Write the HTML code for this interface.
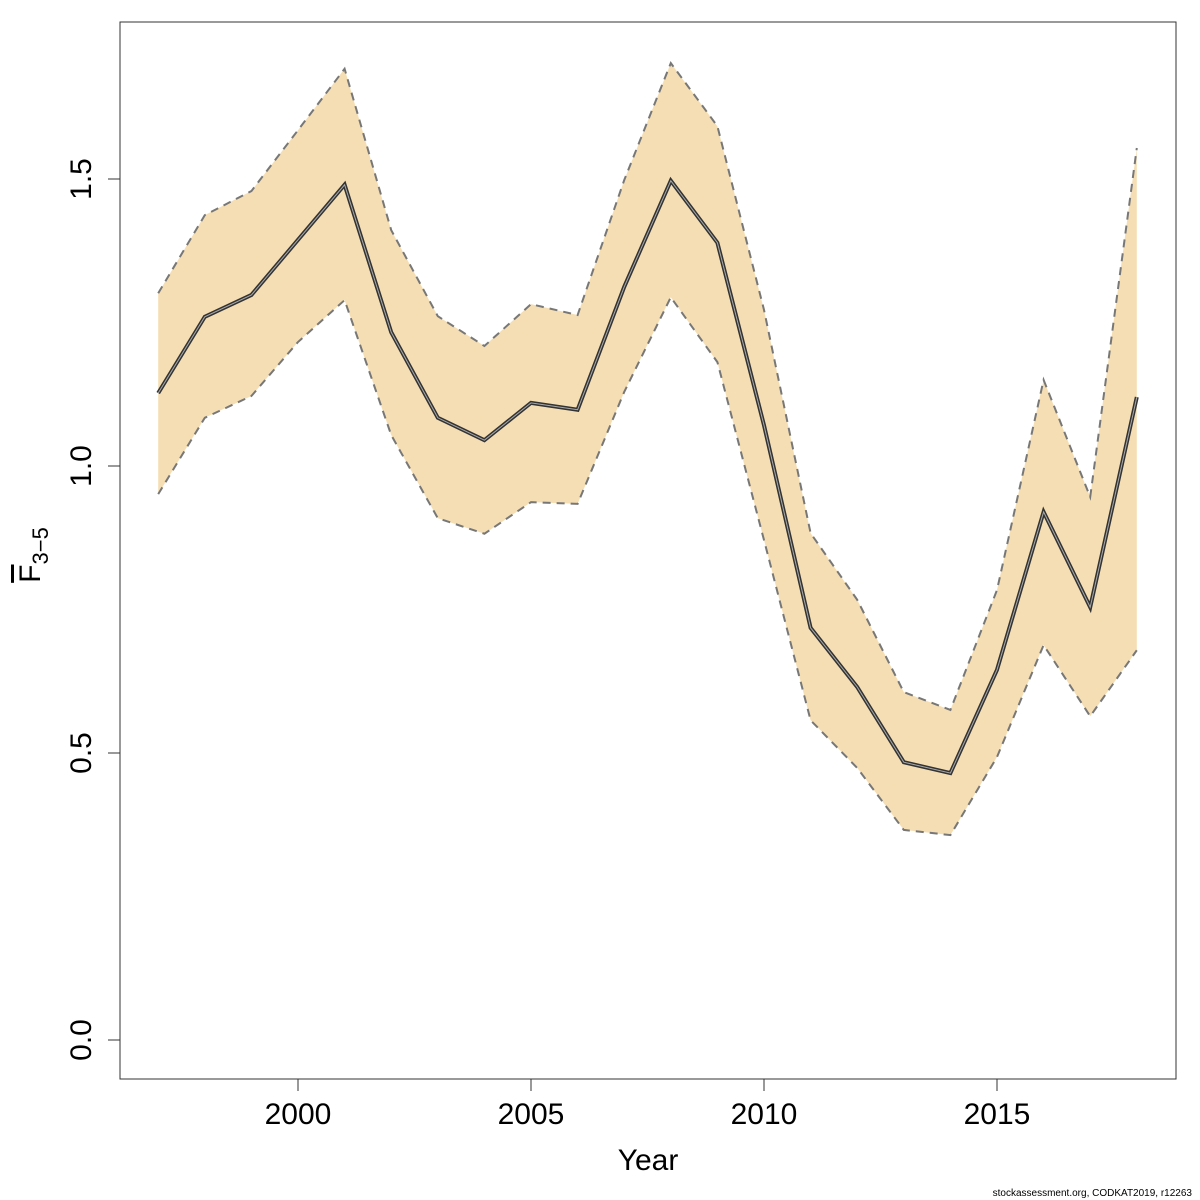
<!DOCTYPE html>
<html><head><meta charset="utf-8"><style>
body{margin:0;background:#fff}
svg{display:block;font-family:"Liberation Sans","DejaVu Sans",sans-serif}
</style></head><body>
<svg id="chart" width="1200" height="1200">
<g id="bands"></g>
<rect x="120" y="22" width="1056" height="1057" fill="none" stroke="#333" stroke-width="1"/>
<g id="axes"></g>
<text x="648" y="1170" font-size="30" text-anchor="middle">Year</text>
<g transform="translate(40,555) rotate(-90)">
<text x="0" y="0" font-size="30" text-anchor="middle"><tspan text-decoration="overline">F</tspan><tspan font-size="22" dy="8">3−5</tspan></text>
</g>
<text x="1192" y="1196" font-size="10" text-anchor="end">stockassessment.org, CODKAT2019, r12263</text>
</svg>
<script>
const years=[1997,1998,1999,2000,2001,2002,2003,2004,2005,2006,2007,2008,2009,2010,2011,2012,2013,2014,2015,2016,2017,2018];
const meanF=[1.127,1.26,1.298,1.394,1.49,1.233,1.084,1.045,1.11,1.098,1.312,1.497,1.389,1.071,0.718,0.615,0.484,0.465,0.645,0.92,0.754,1.12];
const upperF=[1.301,1.437,1.479,1.585,1.692,1.411,1.261,1.209,1.282,1.263,1.498,1.702,1.592,1.272,0.883,0.767,0.606,0.575,0.784,1.15,0.946,1.554];
const lowerF=[0.951,1.084,1.122,1.216,1.289,1.054,0.909,0.882,0.937,0.934,1.129,1.294,1.181,0.871,0.557,0.474,0.366,0.357,0.493,0.688,0.564,0.679];
const xTicks=[2000,2005,2010,2015];
const yTicks=[0,0.5,1.0,1.5];
const yTickLabels=["0.0","0.5","1.0","1.5"];
const NS="http://www.w3.org/2000/svg";
function xs(y){return 298+(y-2000)*46.6;}
function ys(v){return 1040-v*574;}
function mk(tag,attrs,parent){const e=document.createElementNS(NS,tag);for(const k in attrs)e.setAttribute(k,attrs[k]);parent.appendChild(e);return e;}
const bands=document.getElementById('bands');
const axes=document.getElementById('axes');
let pts=years.map((y,i)=>xs(y)+','+ys(upperF[i]));
let lpts=years.map((y,i)=>xs(y)+','+ys(lowerF[i])).reverse();
const poly=mk('polygon',{points:pts.concat(lpts).join(' '),fill:'#F5DEB3',stroke:'none'},bands);


const up=mk('polyline',{points:pts.join(' '),fill:'none',stroke:'#777','stroke-width':2,'stroke-dasharray':'8,6'},bands);


const lo=mk('polyline',{points:years.map((y,i)=>xs(y)+','+ys(lowerF[i])).join(' '),fill:'none',stroke:'#777','stroke-width':2,'stroke-dasharray':'8,6'},bands);


const mp=years.map((y,i)=>xs(y)+','+ys(meanF[i])).join(' ');
const m1=mk('polyline',{points:mp,fill:'none',stroke:'#333','stroke-width':4},bands);


const m2=mk('polyline',{points:mp,fill:'none',stroke:'#aaa','stroke-width':1},bands);


xTicks.forEach(t=>{
 const l=mk('line',{x1:xs(t),x2:xs(t),y1:1079,y2:1091,stroke:'#333'},axes);
 
 
 const tx=mk('text',{x:xs(t),y:1124,'font-size':30,'text-anchor':'middle'},axes);
 tx.textContent=t;
 
 
});
yTicks.forEach((t,i)=>{
 const l=mk('line',{x1:108,x2:120,y1:ys(t),y2:ys(t),stroke:'#333'},axes);
 
 
 const tx=mk('text',{x:0,y:0,'font-size':30,'text-anchor':'middle',transform:'translate(91,'+ys(t)+') rotate(-90)'},axes);
 tx.textContent=yTickLabels[i];
 
 
});
</script>
</body></html>
